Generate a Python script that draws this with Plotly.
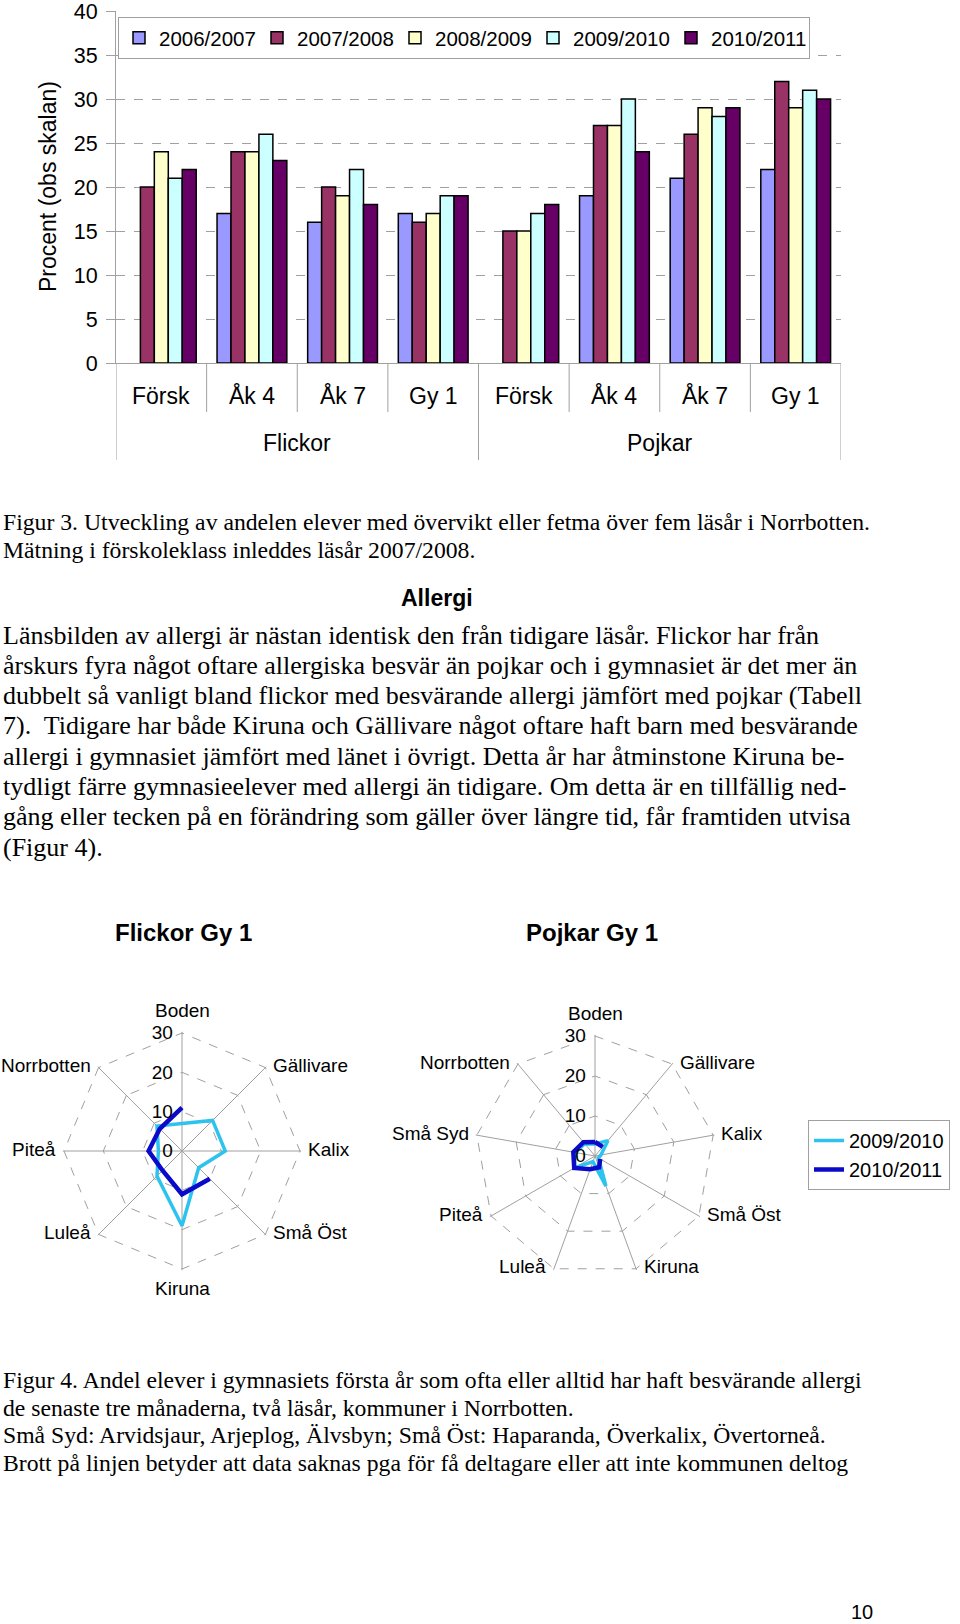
import math
import plotly.graph_objects as go

W, H = 960, 1624
def px(x): return x / W
def py(y): return 1 - y / H

# ---------------- data: bar chart ----------------
groups = ["Flickor"] * 4 + ["Pojkar"] * 4
levels = ["Försk", "Åk 4", "Åk 7", "Gy 1"] * 2
years = ["2006/2007", "2007/2008", "2008/2009", "2009/2010", "2010/2011"]
v_0607 = [None, 17, 16, 17, None, 19, 21, 22]
v_0708 = [20, 24, 20, 16, 15, 27, 26, 32]
v_0809 = [24, 24, 19, 17, 15, 27, 29, 29]
v_0910 = [21, 26, 22, 19, 17, 30, 28, 31]
v_1011 = [22, 23, 18, 19, 18, 24, 29, 30]
y_ticks = [0, 5, 10, 15, 20, 25, 30, 35, 40]

# ---------------- data: radar charts ----------------
flick_cats = ["Boden", "Gällivare", "Kalix", "Små Öst", "Kiruna", "Luleå", "Piteå", "Norrbotten"]
flick_0910 = [7, 11, 11, 6, 19, 9, 6, 9]
flick_1011 = [11, None, None, 10, 11, 7, 8.5, 8]
pojk_cats = ["Boden", "Gällivare", "Kalix", "Små Öst", "Kiruna", "Luleå", "Piteå", "Små Syd", "Norrbotten"]
pojk_0910 = [3, 5, 1.5, 1, 8, 1.5, 6, 5, 4]
pojk_1011 = [3.5, 3, None, 1.5, 3, 3.5, 6, 5.5, 4.5]
radar_years = ["2009/2010", "2010/2011"]
r_ticks = [0, 10, 20, 30]

# ---------------- text ----------------
fig3_caption = [
    "Figur 3. Utveckling av andelen elever med övervikt eller fetma över fem läsår i Norrbotten.",
    "Mätning i förskoleklass inleddes läsår 2007/2008.",
]
heading = "Allergi"
paragraph = [
    "Länsbilden av allergi är nästan identisk den från tidigare läsår. Flickor har från",
    "årskurs fyra något oftare allergiska besvär än pojkar och i gymnasiet är det mer än",
    "dubbelt så vanligt bland flickor med besvärande allergi jämfört med pojkar (Tabell",
    "7).  Tidigare har både Kiruna och Gällivare något oftare haft barn med besvärande",
    "allergi i gymnasiet jämfört med länet i övrigt. Detta år har åtminstone Kiruna be-",
    "tydligt färre gymnasieelever med allergi än tidigare. Om detta är en tillfällig ned-",
    "gång eller tecken på en förändring som gäller över längre tid, får framtiden utvisa",
    "(Figur 4).",
]
radar_titles = ["Flickor Gy 1", "Pojkar Gy 1"]
fig4_caption = [
    "Figur 4. Andel elever i gymnasiets första år som ofta eller alltid har haft besvärande allergi",
    "de senaste tre månaderna, två läsår, kommuner i Norrbotten.",
    "Små Syd: Arvidsjaur, Arjeplog, Älvsbyn; Små Öst: Haparanda, Överkalix, Övertorneå.",
    "Brott på linjen betyder att data saknas pga för få deltagare eller att inte kommunen deltog",
]
page_number = "10"

# ---------------- styles ----------------
SANS = "Liberation Sans, Arial, sans-serif"
SERIF = "Liberation Serif, Times New Roman, serif"
bar_colors = ["#9999FF", "#993366", "#FFFFCC", "#CCFFFF", "#660066"]
radar_colors = ["#2EC3EE", "#0A0AC8"]
radar_widths = [3.5, 4.5]
GRID = "#A0A0A0"
CLEAR = "rgba(0,0,0,0)"

fig = go.Figure()

xkeys = [g + "|" + l for g, l in zip(groups, levels)]
for name, vals, col in zip(years, [v_0607, v_0708, v_0809, v_0910, v_1011], bar_colors):
    fig.add_trace(go.Bar(x=xkeys, y=vals, name=name,
                         marker=dict(color=col, line=dict(color="black", width=1.5)),
                         legend="legend"))

def closed(v):
    return list(v) + [v[0]]

for cats, sets, sub, show in [(flick_cats, [flick_0910, flick_1011], "polar", True),
                              (pojk_cats, [pojk_0910, pojk_1011], "polar2", False)]:
    for name, vals, col, w in zip(radar_years, sets, radar_colors, radar_widths):
        fig.add_trace(go.Scatterpolar(r=closed(vals), theta=closed(cats), name=name,
                                      mode="lines", line=dict(color=col, width=w),
                                      connectgaps=False, subplot=sub,
                                      showlegend=show, legend="legend2"))

bar_top, bar_bot = 11, 363
fig.update_layout(
    width=W, height=H, margin=dict(l=0, r=0, t=0, b=0, pad=0, autoexpand=False),
    paper_bgcolor="white", plot_bgcolor="white",
    font=dict(family=SANS, color="black", size=20),
    barmode="group", bargap=0.23, bargroupgap=0,
    xaxis=dict(domain=[px(116), px(841)], type="category", categoryorder="array",
               categoryarray=xkeys, showticklabels=False, ticks="", automargin=False,
               showline=True, linecolor=GRID, linewidth=1, showgrid=False, zeroline=False,
               range=[-0.5, len(xkeys) - 0.5]),
    yaxis=dict(domain=[py(bar_bot), py(bar_top)], range=[0, 40], tickvals=y_ticks,
               showgrid=True, gridcolor=GRID, griddash="dash", gridwidth=1, automargin=False,
               showline=True, linecolor=GRID, linewidth=1, ticks="outside",
               ticklen=9, tickcolor=GRID, zeroline=False, ticklabeloverflow="allow",
               tickfont=dict(size=21.5, family=SANS), ticklabelstandoff=4),
    legend=dict(orientation="h", x=px(118), y=py(17), xanchor="left", yanchor="top",
                bordercolor=GRID, borderwidth=1, bgcolor="white",
                font=dict(size=20.5, family=SANS), entrywidth=93, entrywidthmode="pixels",
                itemwidth=30, tracegroupgap=0),
    legend2=dict(x=px(808), y=py(1120), xanchor="left", yanchor="top",
                 bordercolor=GRID, borderwidth=1, bgcolor="white",
                 font=dict(size=20, family=SANS), itemwidth=30),
)

R_MAX = 30.3
radars = [(flick_cats, 182, 1151, 118, "polar"), (pojk_cats, 595, 1156, 120, "polar2")]

def polar_cfg(cx, cy, r, cats):
    rr = r * R_MAX / 30
    return dict(
        domain=dict(x=[px(cx - rr), px(cx + rr)], y=[py(cy + rr), py(cy - rr)]),
        bgcolor="white", gridshape="linear",
        radialaxis=dict(range=[0, R_MAX], tickvals=r_ticks, showline=False,
                        ticks="outside", ticklen=2, tickcolor=CLEAR,
                        showgrid=True, gridcolor=GRID, griddash="dash", gridwidth=1,
                        angle=90, side="counterclockwise", tickangle=90,
                        tickfont=dict(size=19, family=SANS, color="black")),
        angularaxis=dict(direction="clockwise", rotation=90, type="category",
                         categoryorder="array", categoryarray=cats,
                         showgrid=True, gridcolor=GRID, gridwidth=1, showline=False,
                         ticks="", showticklabels=False),
    )

for cats, cx, cy, r, name in radars:
    fig.update_layout({name: polar_cfg(cx, cy, r, cats)})

shapes = []
ann = []

# category labels around each radar, placed beside each spoke end
for cats, cx, cy, r, name in radars:
    n_c = len(cats)
    for k, c in enumerate(cats):
        th = 2 * math.pi * k / n_c
        s, co = math.sin(th), math.cos(th)
        vx, vy = cx + r * s, cy - r * co
        if abs(s) < 1e-6:
            x, y, xa = vx, (vy - 23 if co > 0 else vy + 19), "center"
        else:
            x = vx + 6 if s > 0 else vx - 6
            xa = "left" if s > 0 else "right"
            y = vy - 2
        ann.append(dict(x=px(x), y=py(y), xref="paper", yref="paper", text=c,
                        showarrow=False, font=dict(size=19, family=SANS),
                        xanchor=xa, yanchor="middle"))

n = len(xkeys)
for i in range(n + 1):
    b = i - 0.5
    outer = (i == 0 or i == n or groups[i - 1] != groups[i])
    shapes.append(dict(type="line", xref="x", yref="paper", x0=b, x1=b,
                       y0=py(bar_bot), y1=py(460 if outer else 412),
                       line=dict(color=GRID, width=1)))
for i, l in enumerate(levels):
    ann.append(dict(x=i, y=py(396), xref="x", yref="paper", text=l, showarrow=False,
                    font=dict(size=23, family=SANS), xanchor="center", yanchor="middle"))
for g in dict.fromkeys(groups):
    idx = [i for i, gg in enumerate(groups) if gg == g]
    ann.append(dict(x=(idx[0] + idx[-1]) / 2, y=py(443), xref="x", yref="paper", text=g,
                    showarrow=False, font=dict(size=23, family=SANS),
                    xanchor="center", yanchor="middle"))
ann.append(dict(x=px(48), y=py(187), xref="paper", yref="paper", text="Procent (obs skalan)",
                textangle=-90, showarrow=False, font=dict(size=23, family=SANS),
                xanchor="center", yanchor="middle"))

def text_lines(lines, y0, step, size, family=SERIF):
    for k, t in enumerate(lines):
        ann.append(dict(x=px(1), y=py(y0 + k * step), xref="paper", yref="paper", text=t,
                        showarrow=False, font=dict(size=size, family=family),
                        xanchor="left", yanchor="middle"))

text_lines(fig3_caption, 522, 28, 23.7)
ann.append(dict(x=px(437), y=py(598), xref="paper", yref="paper", text="<b>" + heading + "</b>",
                showarrow=False, font=dict(size=23, family=SANS), xanchor="center", yanchor="middle"))
text_lines(paragraph, 635, 30.3, 26)
text_lines(fig4_caption, 1380, 27.7, 23.7)
for t, cx in zip(radar_titles, [183, 592]):
    ann.append(dict(x=px(cx), y=py(932), xref="paper", yref="paper", text="<b>" + t + "</b>",
                    showarrow=False, font=dict(size=24, family=SANS),
                    xanchor="center", yanchor="middle"))
ann.append(dict(x=px(862), y=py(1612), xref="paper", yref="paper", text=page_number,
                showarrow=False, font=dict(size=20, family=SANS),
                xanchor="center", yanchor="middle"))

fig.update_layout(shapes=shapes, annotations=ann)
fig.write_html("out.html", config={"displayModeBar": False},
               post_script="document.body.style.margin='0px';")
